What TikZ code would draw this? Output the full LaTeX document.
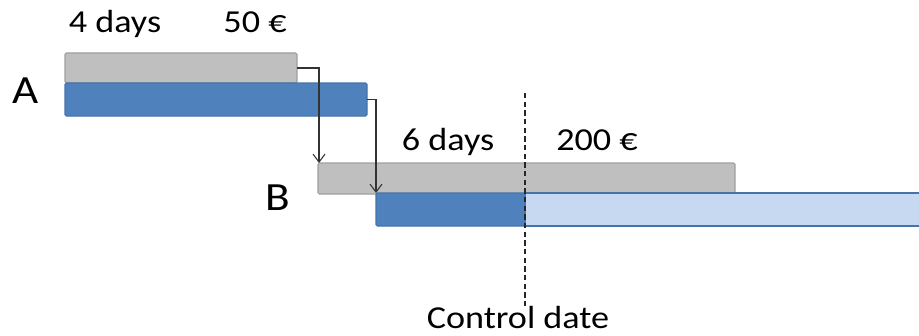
\documentclass[tikz,border=0pt]{standalone}
\usepackage{fontspec}
\setmainfont{Carlito}[FakeStretch=1.13]
\usetikzlibrary{positioning,calc,arrows.meta}

\definecolor{plangrey}{RGB}{191,191,191}
\definecolor{plangreyline}{RGB}{160,160,160}
\definecolor{actblue}{RGB}{79,129,189}
\definecolor{actblueline}{RGB}{70,115,170}
\definecolor{restblue}{RGB}{198,217,241}

\tikzset{
  bar/.style={rectangle, anchor=north west, inner sep=0pt, outer sep=0pt, line width=0.8pt},
  planbar/.style={bar, draw=plangreyline, fill=plangrey, rounded corners=1pt},
  actbar/.style={bar, draw=actblueline, fill=actblue, rounded corners=1pt},
  restbar/.style={bar, draw=actblueline, fill=restblue},
  lbl/.style={anchor=base, inner sep=0pt, font=\fontsize{24}{28}\selectfont},
  task/.style={anchor=base, inner sep=0pt, font=\fontsize{30}{34}\selectfont},
  link/.style={-{Straight Barb[length=6pt,width=9pt]}, line width=0.8pt, black!80}
}

\begin{document}
\begin{tikzpicture}[x=0.75pt, y=-0.75pt]
    \useasboundingbox (0,0) rectangle (919,335);

    % task A
    \node [planbar, minimum width=174pt, minimum height=22.5pt] (planA) at (65,53) {};
    \node [actbar, minimum width=226.5pt, minimum height=24.75pt] (actA) at (65,83) {};
    \node [task] (nameA) at (26,103) {A};
    \node [lbl] (durA) at (115,33) {4 days};
    \node [lbl] (costA) at (255,33) {50 €};

    % task B
    \node [planbar, minimum width=312.75pt, minimum height=23.25pt] (planB) at (318,163) {};
    \node [restbar, minimum width=297pt, minimum height=24.75pt] (restB) at (525,193) {};
    \node [actbar, minimum width=111.75pt, minimum height=24.75pt] (actB) at (376,193) {};
    \node [task] (nameB) at (278,210) {B};
    \node [lbl] (durB) at (448,150) {6 days};
    \node [lbl] (costB) at (597,150) {200 €};

    % links
    \draw [link] (planA.east) -| ([xshift=0.75pt]planB.north west);
    \draw [link] (actA.east) -| (actB.north west);

    % control date
    \node [lbl] (ctrl) at (518,328) {Control date};
    \coordinate (ctop) at (525,93);
    \draw [dashed, dash pattern=on 4pt off 2.5pt, line width=0.8pt, black!85] (ctop) -- (ctop |- ctrl.north);
\end{tikzpicture}
\end{document}
